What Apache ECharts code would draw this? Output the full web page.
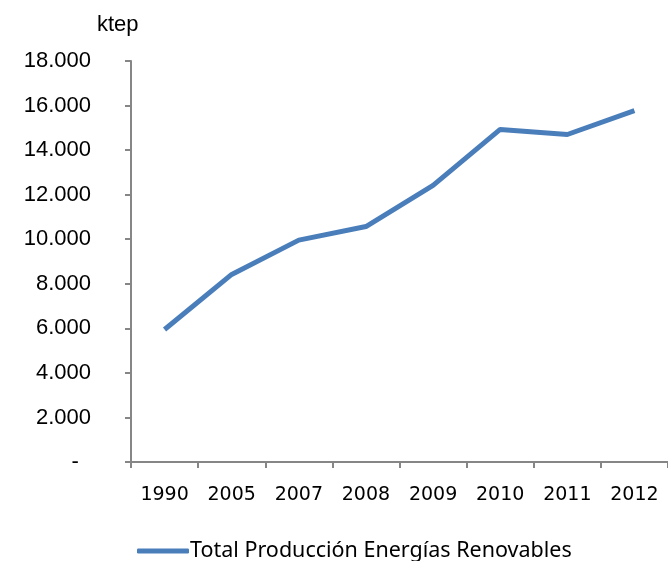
<!DOCTYPE html>
<html>
<head>
<meta charset="utf-8">
<script src="https://cdn.jsdelivr.net/npm/echarts@6/dist/echarts.min.js"></script>
<style>
  html, body { margin: 0; padding: 0; background: #fff; }
  #chart { width: 668px; height: 561px; }
</style>
</head>
<body>
<div id="chart"></div>
<script>
// datos
const years = ['1990', '2005', '2007', '2008', '2009', '2010', '2011', '2012']
const produccion = [5950, 8420, 9960, 10570, 12420, 14930, 14700, 15770]
const seriesName = 'Total Producción Energías Renovables'

const chart = echarts.init(document.getElementById('chart'))
chart.setOption({
  animation: false,
  title: {
    text: 'ktep',
    left: 92,
    top: 9,
    textStyle: { fontFamily: 'Liberation Sans', fontSize: 22, fontWeight: 'normal', color: '#000' }
  },
  grid: { left: 131, right: -1, top: 61, bottom: 99 },
  legend: {
    top: 535,
    left: 132,
    itemWidth: 52,
    itemHeight: 5,
    itemGap: 2,
    icon: 'roundRect',
    textStyle: { fontFamily: 'Noto Sans', fontSize: 21.5, color: '#000', padding: [0, 0, 0, -4] },
    data: [seriesName]
  },
  xAxis: {
    type: 'category',
    data: years,
    axisLine: { lineStyle: { color: '#868686', width: 2 } },
    axisTick: { show: true, length: 6, lineStyle: { color: '#868686', width: 2 } },
    axisLabel: { margin: 24, fontFamily: 'DejaVu Sans', fontSize: 19, color: '#000' }
  },
  yAxis: {
    type: 'value',
    min: 0,
    max: 18000,
    interval: 2000,
    splitLine: { show: false },
    axisLine: { show: true, lineStyle: { color: '#868686', width: 2 } },
    axisTick: { show: true, length: 6, lineStyle: { color: '#868686', width: 2 } },
    axisLabel: {
      margin: 40,
      fontFamily: 'Liberation Sans',
      fontSize: 22,
      color: '#000',
      formatter: function (v) {
        if (v === 0) return '-  '
        return String(v).replace(/\B(?=(\d{3})+(?!\d))/g, '.')
      }
    }
  },
  series: [
    {
      name: seriesName,
      type: 'line',
      data: produccion,
      symbol: 'none',
      lineStyle: { color: '#4a7ebb', width: 5 },
      itemStyle: { color: '#4a7ebb' }
    }
  ]
})
</script>
</body>
</html>
